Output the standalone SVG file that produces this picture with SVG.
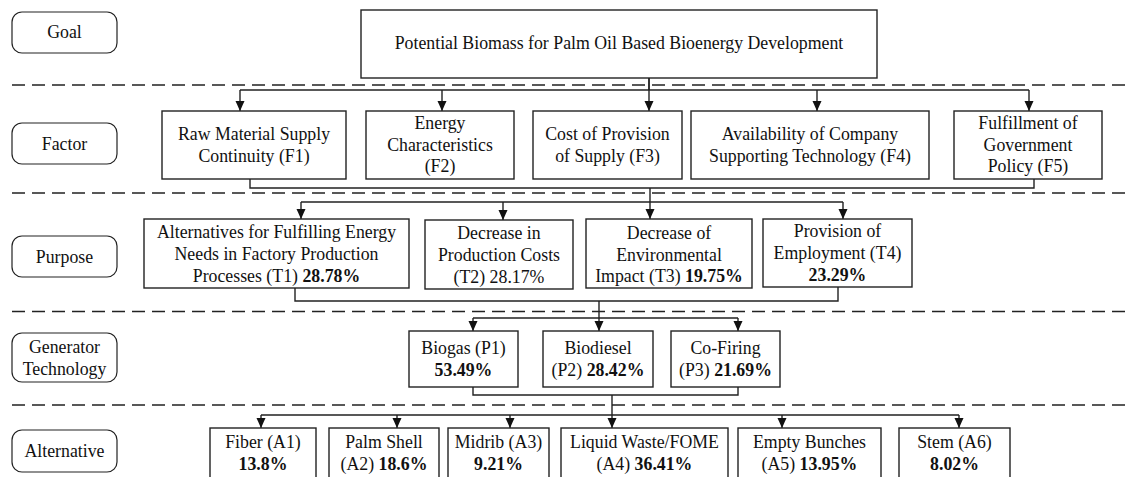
<svg xmlns="http://www.w3.org/2000/svg" width="1127" height="477" viewBox="0 0 1127 477">
<style>
text{font-family:"Liberation Serif","Times New Roman",serif;font-size:17.8px;fill:#111;text-anchor:middle}
.b{font-weight:bold}
.box{fill:#fff;stroke:#222;stroke-width:1.4}
.lab{fill:#fff;stroke:#222;stroke-width:1.2}
.dash{stroke:#222;stroke-width:1.5;stroke-dasharray:13 7;fill:none}
.con{stroke:#222;stroke-width:1.4;fill:none}
</style>
<defs>
<marker id="arr" viewBox="0 0 10 10" refX="10" refY="5" markerWidth="10" markerHeight="10" markerUnits="userSpaceOnUse" orient="auto">
<path d="M0,0.5 L10,5 L0,9.5 z" fill="#111"/>
</marker>
</defs>
<rect width="1127" height="477" fill="#fff"/>
<g id="separators">
<line class="dash" x1="12" y1="85" x2="1127" y2="85"/>
<line class="dash" x1="12" y1="193" x2="1127" y2="193"/>
<line class="dash" x1="12" y1="311.5" x2="1127" y2="311.5"/>
<line class="dash" x1="12" y1="405" x2="1127" y2="405"/>
</g>
<g id="connectors">
<path class="con" d="M649,78 V90 M240,90 H1029"/>
<path class="con" d="M240,90 V111" marker-end="url(#arr)"/>
<path class="con" d="M442,90 V111" marker-end="url(#arr)"/>
<path class="con" d="M649,78 V111" marker-end="url(#arr)"/>
<path class="con" d="M817,90 V111" marker-end="url(#arr)"/>
<path class="con" d="M1029,90 V111" marker-end="url(#arr)"/>
<path class="con" d="M250,179 V188 H1034 V179 M301,202 H843"/>
<path class="con" d="M301,202 V219" marker-end="url(#arr)"/>
<path class="con" d="M503,202 V220" marker-end="url(#arr)"/>
<path class="con" d="M650,188 V219" marker-end="url(#arr)"/>
<path class="con" d="M843,202 V219" marker-end="url(#arr)"/>
<path class="con" d="M295,288 V301 H838 V287 M473,318 H738"/>
<path class="con" d="M473,318 V331" marker-end="url(#arr)"/>
<path class="con" d="M599,301 V331" marker-end="url(#arr)"/>
<path class="con" d="M738,318 V331" marker-end="url(#arr)"/>
<path class="con" d="M473,387 V395 H738 V387 M261,415 H959"/>
<path class="con" d="M261,415 V428" marker-end="url(#arr)"/>
<path class="con" d="M397,415 V428" marker-end="url(#arr)"/>
<path class="con" d="M510,415 V428" marker-end="url(#arr)"/>
<path class="con" d="M612,395 V428" marker-end="url(#arr)"/>
<path class="con" d="M782,415 V428" marker-end="url(#arr)"/>
<path class="con" d="M959,415 V428" marker-end="url(#arr)"/>
</g>
<g id="label-goal"><rect class="lab" x="12" y="12" width="105" height="41" rx="10"/><text x="64.5" y="38">Goal</text></g>
<g id="label-factor"><rect class="lab" x="12" y="123" width="105" height="41" rx="10"/><text x="64.5" y="150">Factor</text></g>
<g id="label-purpose"><rect class="lab" x="12" y="236" width="105" height="41" rx="10"/><text x="64.5" y="263">Purpose</text></g>
<g id="label-generator"><rect class="lab" x="12" y="333" width="105" height="49" rx="10"/><text x="64.5" y="353">Generator</text><text x="64.5" y="375">Technology</text></g>
<g id="label-alternative"><rect class="lab" x="12" y="430" width="105" height="42" rx="10"/><text x="64.5" y="457">Alternative</text></g>
<g id="goal"><rect class="box" x="361" y="10" width="516" height="68"/><text x="619" y="49">Potential Biomass for Palm Oil Based Bioenergy Development</text></g>
<g id="F1"><rect class="box" x="162" y="111" width="184" height="68"/><text x="254" y="140">Raw Material Supply</text><text x="254" y="162">Continuity (F1)</text></g>
<g id="F2"><rect class="box" x="366" y="111" width="148" height="68"/><text x="440" y="129">Energy</text><text x="440" y="150.5">Characteristics</text><text x="440" y="172">(F2)</text></g>
<g id="F3"><rect class="box" x="533" y="111" width="149" height="68"/><text x="607.5" y="140">Cost of Provision</text><text x="607.5" y="162">of Supply (F3)</text></g>
<g id="F4"><rect class="box" x="691" y="111" width="238" height="68"/><text x="810" y="140">Availability of Company</text><text x="810" y="162">Supporting Technology (F4)</text></g>
<g id="F5"><rect class="box" x="954" y="111" width="148" height="68"/><text x="1028" y="129">Fulfillment of</text><text x="1028" y="150.5">Government</text><text x="1028" y="172">Policy (F5)</text></g>
<g id="T1"><rect class="box" x="144" y="219" width="265" height="69"/><text x="276.5" y="238">Alternatives for Fulfilling Energy</text><text x="276.5" y="260">Needs in Factory Production</text><text x="276.5" y="282">Processes (T1) <tspan class="b">28.78%</tspan></text></g>
<g id="T2"><rect class="box" x="425" y="220" width="148" height="69"/><text x="499" y="239">Decrease in</text><text x="499" y="261">Production Costs</text><text x="499" y="282.5">(T2) 28.17%</text></g>
<g id="T3"><rect class="box" x="586" y="219" width="166" height="69"/><text x="669" y="238.5">Decrease of</text><text x="669" y="260.5">Environmental</text><text x="669" y="282">Impact (T3) <tspan class="b">19.75%</tspan></text></g>
<g id="T4"><rect class="box" x="763" y="219" width="149" height="68"/><text x="837.5" y="237">Provision of</text><text x="837.5" y="259">Employment (T4)</text><text x="837.5" y="280.5" class="b">23.29%</text></g>
<g id="P1"><rect class="box" x="409" y="331" width="109" height="56"/><text x="463.5" y="354">Biogas (P1)</text><text x="463.5" y="376" class="b">53.49%</text></g>
<g id="P2"><rect class="box" x="543" y="331" width="110" height="56"/><text x="598" y="354">Biodiesel</text><text x="598" y="376">(P2) <tspan class="b">28.42%</tspan></text></g>
<g id="P3"><rect class="box" x="671" y="331" width="109" height="56"/><text x="725.5" y="354">Co-Firing</text><text x="725.5" y="376">(P3) <tspan class="b">21.69%</tspan></text></g>
<g id="A1"><rect class="box" x="210" y="428" width="106" height="60"/><text x="263" y="448">Fiber (A1)</text><text x="263" y="469.5" class="b">13.8%</text></g>
<g id="A2"><rect class="box" x="329" y="428" width="110" height="60"/><text x="384" y="448">Palm Shell</text><text x="384" y="469.5">(A2) <tspan class="b">18.6%</tspan></text></g>
<g id="A3"><rect class="box" x="448" y="428" width="101" height="60"/><text x="498.5" y="448">Midrib (A3)</text><text x="498.5" y="469.5" class="b">9.21%</text></g>
<g id="A4"><rect class="box" x="561" y="428" width="167" height="60"/><text x="644.5" y="448">Liquid Waste/FOME</text><text x="644.5" y="469.5">(A4) <tspan class="b">36.41%</tspan></text></g>
<g id="A5"><rect class="box" x="738" y="428" width="143" height="60"/><text x="809.5" y="448">Empty Bunches</text><text x="809.5" y="469.5">(A5) <tspan class="b">13.95%</tspan></text></g>
<g id="A6"><rect class="box" x="899" y="428" width="111" height="60"/><text x="954.5" y="448">Stem (A6)</text><text x="954.5" y="469.5" class="b">8.02%</text></g>
</svg>
